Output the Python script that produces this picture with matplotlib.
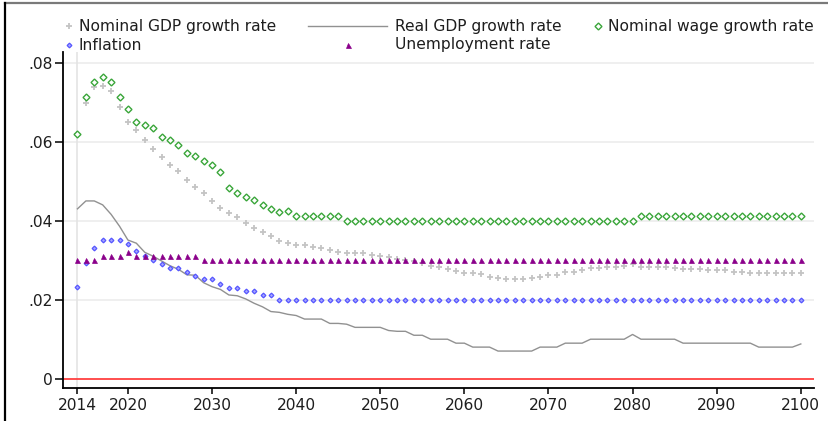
import matplotlib
matplotlib.use("Agg")
import matplotlib.pyplot as plt
from matplotlib.lines import Line2D
import numpy as np

years = list(range(2014, 2101))

nominal_gdp = [0.0620, 0.0697, 0.0738, 0.0741, 0.0728, 0.0689, 0.0651, 0.0630, 0.0603, 0.0581,
               0.0562, 0.0541, 0.0526, 0.0503, 0.0486, 0.0471, 0.0449, 0.0433, 0.0420, 0.0409,
               0.0393, 0.0381, 0.0371, 0.0360, 0.0349, 0.0343, 0.0338, 0.0338, 0.0334, 0.0330,
               0.0327, 0.0322, 0.0319, 0.0317, 0.0317, 0.0313, 0.0311, 0.0307, 0.0304, 0.0300,
               0.0297, 0.0292, 0.0285, 0.0283, 0.0277, 0.0273, 0.0267, 0.0267, 0.0265, 0.0258,
               0.0254, 0.0252, 0.0252, 0.0252, 0.0255, 0.0258, 0.0262, 0.0262, 0.0270, 0.0270,
               0.0276, 0.0279, 0.0279, 0.0282, 0.0283, 0.0285, 0.0290, 0.0284, 0.0284, 0.0284,
               0.0284, 0.0280, 0.0277, 0.0277, 0.0277, 0.0274, 0.0274, 0.0274, 0.0270, 0.0270,
               0.0267, 0.0267, 0.0267, 0.0267, 0.0267, 0.0267, 0.0267]

real_gdp = [0.0430, 0.0450, 0.0450, 0.0440, 0.0416, 0.0386, 0.0351, 0.0343, 0.0320, 0.0310,
            0.0298, 0.0286, 0.0277, 0.0263, 0.0262, 0.0243, 0.0233, 0.0226, 0.0212, 0.0210,
            0.0202, 0.0191, 0.0182, 0.0170, 0.0168, 0.0163, 0.0160, 0.0151, 0.0151, 0.0151,
            0.0140, 0.0140, 0.0138, 0.0130, 0.0130, 0.0130, 0.0130, 0.0122, 0.0120, 0.0120,
            0.0110, 0.0110, 0.0100, 0.0100, 0.0100, 0.0090, 0.0090, 0.0080, 0.0080, 0.0080,
            0.0070, 0.0070, 0.0070, 0.0070, 0.0070, 0.0080, 0.0080, 0.0080, 0.0090, 0.0090,
            0.0090, 0.0100, 0.0100, 0.0100, 0.0100, 0.0100, 0.0112, 0.0100, 0.0100, 0.0100,
            0.0100, 0.0100, 0.0090, 0.0090, 0.0090, 0.0090, 0.0090, 0.0090, 0.0090, 0.0090,
            0.0090, 0.0080, 0.0080, 0.0080, 0.0080, 0.0080, 0.0088]

nominal_wage = ([0.0620, 0.0714, 0.0752, 0.0763, 0.0752, 0.0714, 0.0682, 0.0651, 0.0642, 0.0634,
                 0.0611, 0.0603, 0.0591, 0.0572, 0.0563, 0.0550, 0.0541, 0.0522, 0.0482, 0.0471,
                 0.0461, 0.0452, 0.0440, 0.0430, 0.0421, 0.0424,
                 0.0411, 0.0411, 0.0411, 0.0411, 0.0411, 0.0411]
                + [0.0400] * 35 + [0.0411] * 20)

inflation = ([0.0231, 0.0292, 0.0332, 0.0350, 0.0350, 0.0350, 0.0341, 0.0323, 0.0311, 0.0301,
              0.0291, 0.0279, 0.0279, 0.0271, 0.0260, 0.0252, 0.0252, 0.0240, 0.0230, 0.0230,
              0.0222, 0.0222, 0.0212, 0.0212] + [0.0200] * 63)

unemployment = [0.030] * 3 + [0.031] * 3 + [0.032] + [0.031] * 8 + [0.030] * 72

y_ticks = [0, 0.02, 0.04, 0.06, 0.08]
y_ticklabels = ["0", ".02", ".04", ".06", ".08"]
x_ticks = [2014, 2020, 2030, 2040, 2050, 2060, 2070, 2080, 2090, 2100]
x_ticklabels = [str(v) for v in x_ticks]

labels = ["Nominal GDP growth rate", "Real GDP growth rate", "Nominal wage growth rate",
          "Inflation", "Unemployment rate"]

FS = 11.2
TXT = "#1e1e1e"
plt.rcParams['font.family'] = ['DejaVu Sans']

W, H = 829, 421
fig = plt.figure(figsize=(W / 100, H / 100), dpi=100)
fig.patch.set_facecolor("white")

left, right, top, bottom = 63, 814, 52, 388
ax = fig.add_axes([left / W, 1 - bottom / H, (right - left) / W, (bottom - top) / H])

c_ngdp = "#c4c4c4"
c_rgdp = "#919191"
c_wage = "#3aa63a"
c_infl = "#5555ff"
c_unemp = "#8b008b"

m_ngdp = dict(marker="+", ms=4.0, mew=1.3, color=c_ngdp, ls="none")
m_wage = dict(marker="D", ms=3.5, mew=1.0, mec=c_wage, mfc="white", ls="none")
m_infl = dict(marker="D", ms=2.4, mew=0.9, mec=c_infl, mfc="#a8a8ff", ls="none")
m_unemp = dict(marker="^", ms=3.6, mew=0.5, color=c_unemp, ls="none")

for yt in [0.02, 0.04, 0.06, 0.08]:
    ax.axhline(yt, color="#ececec", lw=1.2, zorder=0)
ax.axvline(2014, color="#e4e4e4", lw=1.2, zorder=0)
ax.axhline(0, color="#ff4040", lw=1.3, zorder=1)

ax.plot(years, nominal_gdp, zorder=2, **m_ngdp)
ax.plot(years, real_gdp, ls="-", lw=1.0, color=c_rgdp, zorder=3)
ax.plot(years, nominal_wage, zorder=4, **m_wage)
ax.plot(years, inflation, zorder=5, **m_infl)
ax.plot(years, unemployment, zorder=6, **m_unemp)

ax.set_xlim(2012.28, 2101.57)
ax.set_ylim(-0.00235, 0.0827)
ax.set_yticks(y_ticks)
ax.set_yticklabels(y_ticklabels)
ax.set_xticks(x_ticks)
ax.set_xticklabels(x_ticklabels)
ax.tick_params(axis="y", direction="out", length=6, width=1.1, pad=1.5, labelsize=FS, labelcolor=TXT)
ax.tick_params(axis="x", direction="out", length=4, width=1.1, pad=3.5, labelsize=FS, labelcolor=TXT)
for s in ["top", "right"]:
    ax.spines[s].set_visible(False)
for s in ["left", "bottom"]:
    ax.spines[s].set_linewidth(1.3)
    ax.spines[s].set_color("black")

# legend (manual, figure pixel coords)
def fx(px):
    return px / W

def fy(py):
    return 1 - py / H

r1, r2 = 26, 45
fig.add_artist(Line2D([fx(69)], [fy(r1)], **m_ngdp))
fig.text(fx(79), fy(r1), labels[0], fontsize=FS, color=TXT, va="center", ha="left")
fig.add_artist(Line2D([fx(308), fx(387)], [fy(r1), fy(r1)], lw=1.0, color=c_rgdp))
fig.text(fx(395), fy(r1), labels[1], fontsize=FS, color=TXT, va="center", ha="left")
fig.add_artist(Line2D([fx(598)], [fy(r1)], **m_wage))
fig.text(fx(608), fy(r1), labels[2], fontsize=FS, color=TXT, va="center", ha="left")
fig.add_artist(Line2D([fx(69)], [fy(r2)], **m_infl))
fig.text(fx(79), fy(r2), labels[3], fontsize=FS, color=TXT, va="center", ha="left")
fig.add_artist(Line2D([fx(348)], [fy(r2)], **m_unemp))
fig.text(fx(395), fy(r2), labels[4], fontsize=FS, color=TXT, va="center", ha="left")

# outer frame (left and top edges)
fig.add_artist(Line2D([fx(5), fx(829)], [fy(3), fy(3)], lw=1.6, color="#7a7a7a"))
fig.add_artist(Line2D([fx(5), fx(5)], [fy(3), fy(421)], lw=1.6, color="black"))

fig.savefig("out.png", dpi=100, facecolor="white")
